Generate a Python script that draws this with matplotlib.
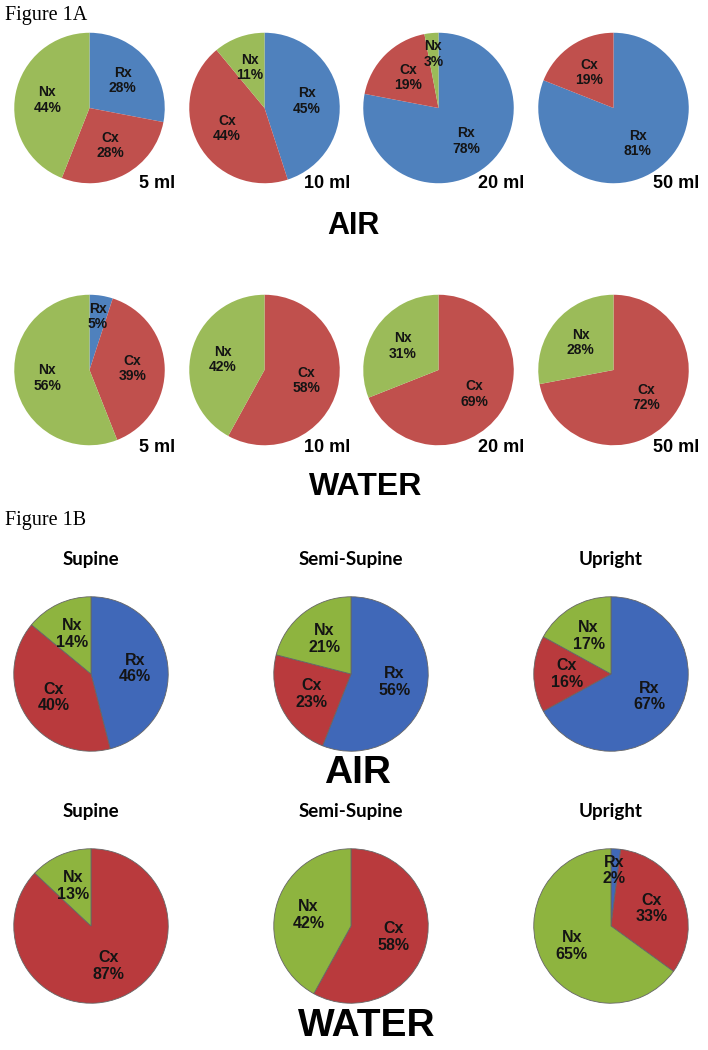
import matplotlib
matplotlib.use("Agg")
import matplotlib.pyplot as plt
import numpy as np

# Figure 1A - pies by volume (order: Rx, Cx, Nx)
volumes = ["5 ml", "10 ml", "20 ml", "50 ml"]
air_rx = [28, 45, 78, 81]
air_cx = [28, 44, 19, 19]
air_nx = [44, 11, 3, 0]
water_rx = [5, 0, 0, 0]
water_cx = [39, 58, 69, 72]
water_nx = [56, 42, 31, 28]

# Figure 1B - pies by position
positions = ["Supine", "Semi-Supine", "Upright"]
pos_air_rx = [46, 56, 67]
pos_air_cx = [40, 23, 16]
pos_air_nx = [14, 21, 17]
pos_water_rx = [0, 0, 2]
pos_water_cx = [87, 58, 33]
pos_water_nx = [13, 42, 65]

names = ["Rx", "Cx", "Nx"]
colors_a = ["#4F81BD", "#C0504D", "#9BBB59"]
colors_b = ["#4068B8", "#B93A3D", "#8EB43F"]

W, H = 708, 1050
fig = plt.figure(figsize=(W / 100, H / 100), dpi=100)


def px(x, y):
    # pixel coords (from top-left) -> figure fraction
    return x / W, 1 - y / H


def draw_pie(cx, cy, r, vals, colors, fs, edge):
    ax = fig.add_axes([(cx - r) / W, 1 - (cy + r) / H, 2 * r / W, 2 * r / H])
    keep = [i for i in range(3) if vals[i] > 0]
    v = [vals[i] for i in keep]
    wedges, texts = ax.pie(v, colors=[colors[i] for i in keep], startangle=90,
                           counterclock=False, radius=1,
                           wedgeprops=dict(edgecolor=edge, linewidth=0.6))
    for w, i in zip(wedges, keep):
        ang = np.deg2rad((w.theta1 + w.theta2) / 2)
        d = 0.72 if vals[i] <= 5 else 0.57
        ax.text(d * np.cos(ang), d * np.sin(ang), f"{names[i]}\n{vals[i]}%",
                ha="center", va="center", fontsize=fs, fontweight="bold",
                family="Liberation Sans", color="#141414", linespacing=1.15)
    ax.set_xlim(-1.01, 1.01)
    ax.set_ylim(-1.01, 1.01)
    ax.set_aspect("equal")
    ax.axis("off")


def ftext(x, y, s, **kw):
    fx, fy = px(x, y)
    fig.text(fx, fy, s, **kw)


# Figure 1A
ftext(5, 20, "Figure 1A", family="Liberation Serif", fontsize=14.5, va="baseline")
xs_a = [89.5, 264.5, 438.5, 613.5]
for k in range(4):
    draw_pie(xs_a[k], 108, 76, [air_rx[k], air_cx[k], air_nx[k]], colors_a, 10, "none")
    draw_pie(xs_a[k], 370, 76, [water_rx[k], water_cx[k], water_nx[k]], colors_a, 10, "none")
    ftext(xs_a[k] + 86, 184, volumes[k], ha="right", va="center", fontsize=13,
          fontweight="bold", family="Liberation Sans")
    ftext(xs_a[k] + 86, 447, volumes[k], ha="right", va="center", fontsize=13,
          fontweight="bold", family="Liberation Sans")
ftext(353, 226, "AIR", ha="center", va="center", fontsize=22, fontweight="bold",
      family="Liberation Sans")
ftext(366, 487, "WATER", ha="center", va="center", fontsize=23, fontweight="bold",
      family="Liberation Sans")

# Figure 1B
ftext(5, 525, "Figure 1B", family="Liberation Serif", fontsize=14.5, va="baseline")
xs_b = [91, 351, 611]
for k in range(3):
    ftext(xs_b[k], 559, positions[k], ha="center", va="center", fontsize=13.5,
          fontweight="bold", family="Lato")
    draw_pie(xs_b[k], 674, 78, [pos_air_rx[k], pos_air_cx[k], pos_air_nx[k]],
             colors_b, 11.5, "#666666")
    ftext(xs_b[k], 812, positions[k], ha="center", va="center", fontsize=13.5,
          fontweight="bold", family="Lato")
    draw_pie(xs_b[k], 926, 78, [pos_water_rx[k], pos_water_cx[k], pos_water_nx[k]],
             colors_b, 11.5, "#666666")
ftext(358, 773, "AIR", ha="center", va="center", fontsize=28, fontweight="bold",
      family="Liberation Sans")
ftext(367, 1026, "WATER", ha="center", va="center", fontsize=28, fontweight="bold",
      family="Liberation Sans")

fig.savefig("out.png", dpi=100)
